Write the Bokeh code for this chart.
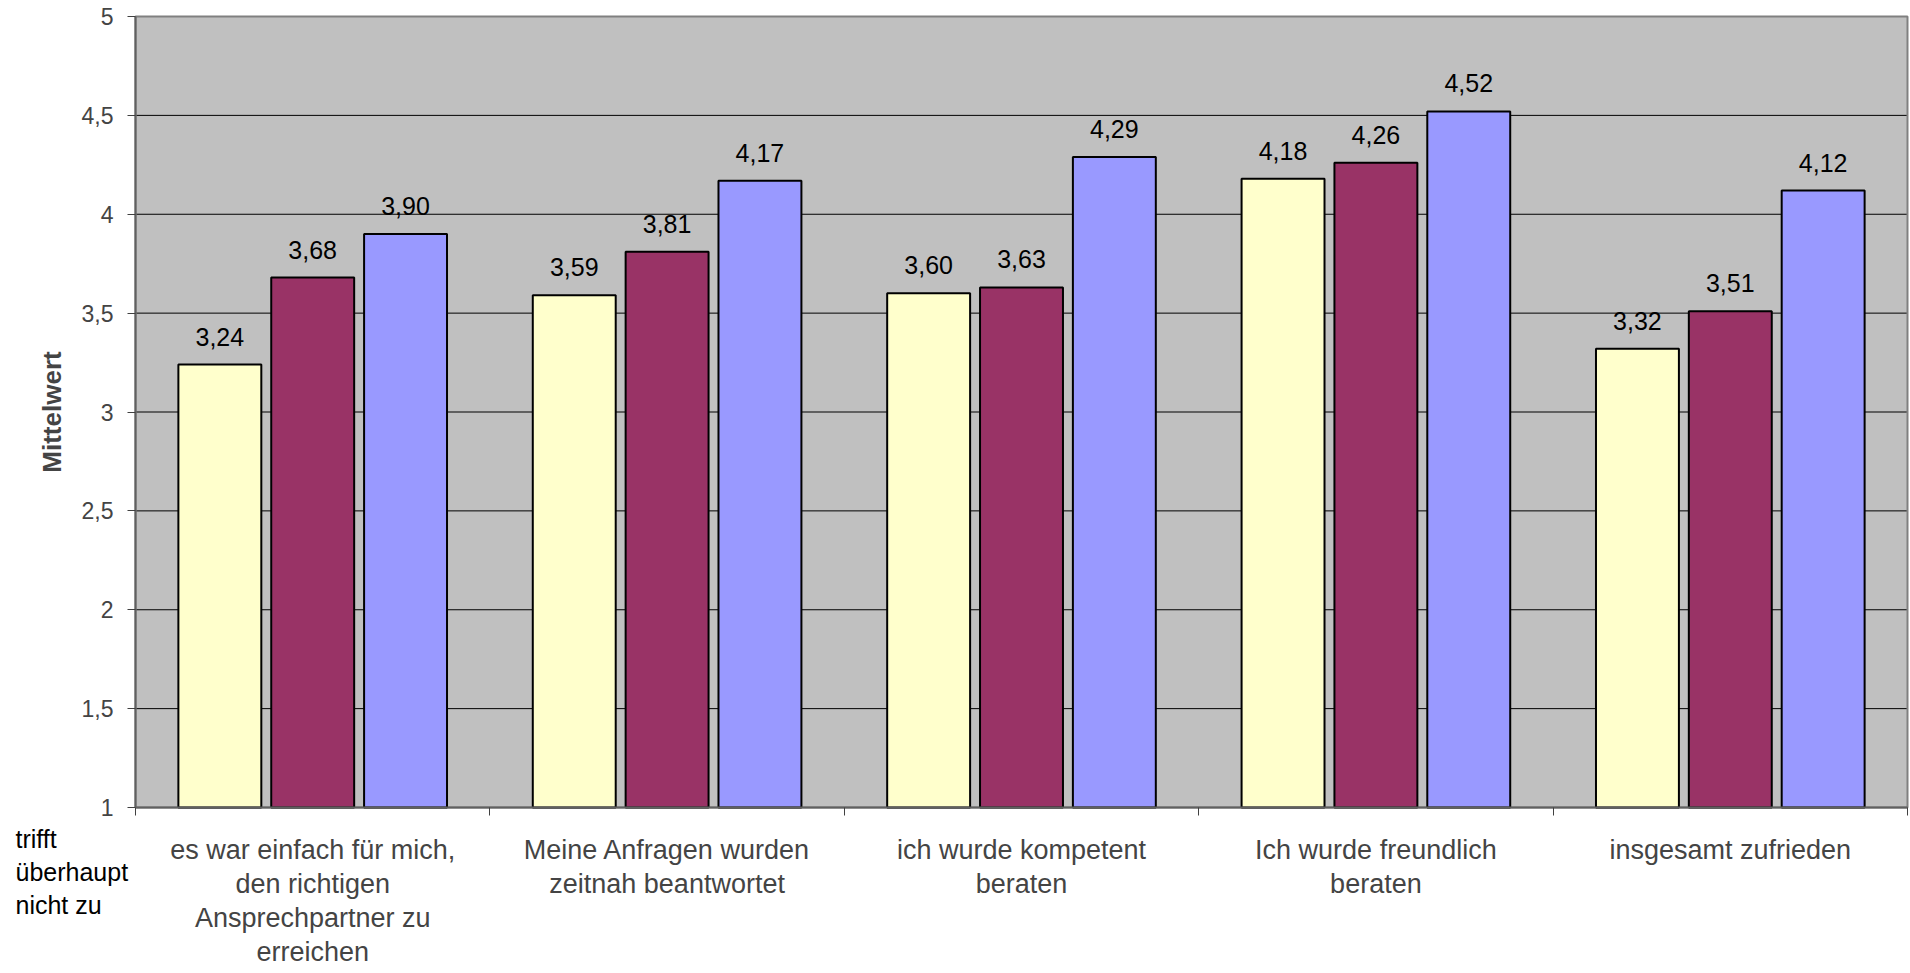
from bokeh.plotting import figure
from bokeh.models import (ColumnDataSource, FixedTicker, CustomJSTickFormatter,
                          LabelSet, Label, Range1d)
from bokeh.embed import file_html
from bokeh.resources import INLINE
from bokeh.core.properties import value
import numpy as np

categories = [
    "es war einfach für mich,\nden richtigen\nAnsprechpartner zu\nerreichen",
    "Meine Anfragen wurden\nzeitnah beantwortet",
    "ich wurde kompetent\nberaten",
    "Ich wurde freundlich\nberaten",
    "insgesamt zufrieden",
]
series_a = [3.24, 3.59, 3.60, 4.18, 3.32]
series_b = [3.68, 3.81, 3.63, 4.26, 3.51]
series_c = [3.90, 4.17, 4.29, 4.52, 4.12]
colors = ["#FFFFCC", "#993366", "#9999FF"]
offsets = [-0.262, 0.0, 0.262]
y_ticks = [1, 1.5, 2, 2.5, 3, 3.5, 4, 4.5, 5]
y_min, y_max = 1, 5
left_note = ["trifft", "überhaupt", "nicht zu"]

FONT = "Liberation Sans"
W, H = 1910, 973
# plot area in pixels (left, right, top, bottom)
PL, PR, PT, PB = 135, 1907, 16, 807
n = len(categories)
x0, x1 = -0.5, n - 0.5
ux = (PR - PL) / (x1 - x0)
uy = (PB - PT) / (y_max - y_min)

p = figure(width=W, height=H, output_backend="svg", toolbar_location=None,
           x_range=Range1d(x0 - PL / ux, x1 + (W - PR) / ux),
           y_range=Range1d(y_min - (H - PB) / uy, y_max + PT / uy),
           min_border=0)
p.background_fill_color = "white"
p.border_fill_color = "white"
p.outline_line_color = None
p.xgrid.grid_line_color = None
p.ygrid.grid_line_color = None

# plot area
p.quad(left=[x0], right=[x1], bottom=[y_min], top=[y_max],
       fill_color="#C0C0C0", line_color=None)
grid_y = [t for t in y_ticks if y_min < t < y_max]
p.segment(x0=[x0] * len(grid_y), x1=[x1] * len(grid_y), y0=grid_y, y1=grid_y,
          line_color="black", line_width=1)
p.quad(left=[x0], right=[x1], bottom=[y_min], top=[y_max],
       fill_color=None, line_color="#808080", line_width=2)

xs = np.arange(n)
for vals, col, off in zip([series_a, series_b, series_c], colors, offsets):
    src = ColumnDataSource(dict(x=xs + off, top=vals,
                                lab=[f"{v:.2f}".replace(".", ",") for v in vals]))
    p.vbar(x="x", top="top", bottom=y_min, width=0.234, source=src,
           fill_color=col, line_color="black", line_width=2)
    p.add_layout(LabelSet(x="x", y="top", text="lab", source=src,
                          text_align="center", text_baseline="alphabetic",
                          y_offset=19, text_font=value(FONT),
                          text_font_size="25px", text_color="black"))

# y axis
p.yaxis.fixed_location = x0
p.yaxis.bounds = (y_min, y_max)
p.yaxis.ticker = FixedTicker(ticks=y_ticks)
p.yaxis.formatter = CustomJSTickFormatter(code="return tick.toString().replace('.', ',');")
p.yaxis.major_label_text_font = FONT
p.yaxis.major_label_text_font_size = "23px"
p.yaxis.major_label_standoff = 14
p.yaxis.major_tick_out = 8
p.yaxis.major_tick_in = 0
p.yaxis.minor_tick_out = 0
p.yaxis.minor_tick_in = 0
p.yaxis.axis_line_color = "#606060"
p.yaxis.axis_line_width = 2
p.yaxis.major_tick_line_color = "#404040"
p.yaxis.axis_label = "Mittelwert"
p.yaxis.axis_label_text_font = FONT
p.yaxis.axis_label_text_font_style = "bold"
p.yaxis.axis_label_text_font_size = "26px"
p.yaxis.axis_label_standoff = 12

# x axis
p.xaxis.fixed_location = y_min
p.xaxis.bounds = (x0, x1)
p.xaxis.ticker = FixedTicker(ticks=list(xs), minor_ticks=[i - 0.5 for i in range(n + 1)])
p.xaxis.major_label_overrides = {int(i): c for i, c in zip(xs, categories)}
p.xaxis.major_label_text_font = FONT
p.xaxis.major_label_text_font_size = "27px"
p.xaxis.major_label_text_line_height = 1.14
p.xaxis.major_label_standoff = 19
p.xaxis.major_tick_out = 0
p.xaxis.major_tick_in = 0
p.xaxis.minor_tick_out = 8
p.xaxis.minor_tick_in = 0
p.xaxis.minor_tick_line_color = "#404040"
p.xaxis.axis_line_color = "#606060"
p.xaxis.axis_line_width = 2

for i, t in enumerate(left_note):
    p.add_layout(Label(x=15, y=(H - 838) - 33 * i, x_units="screen", y_units="screen",
                       text=t, text_baseline="middle", text_align="left",
                       text_font=FONT, text_font_size="25px",
                       text_color="black"))

open("out.html", "w").write(file_html(p, INLINE))
